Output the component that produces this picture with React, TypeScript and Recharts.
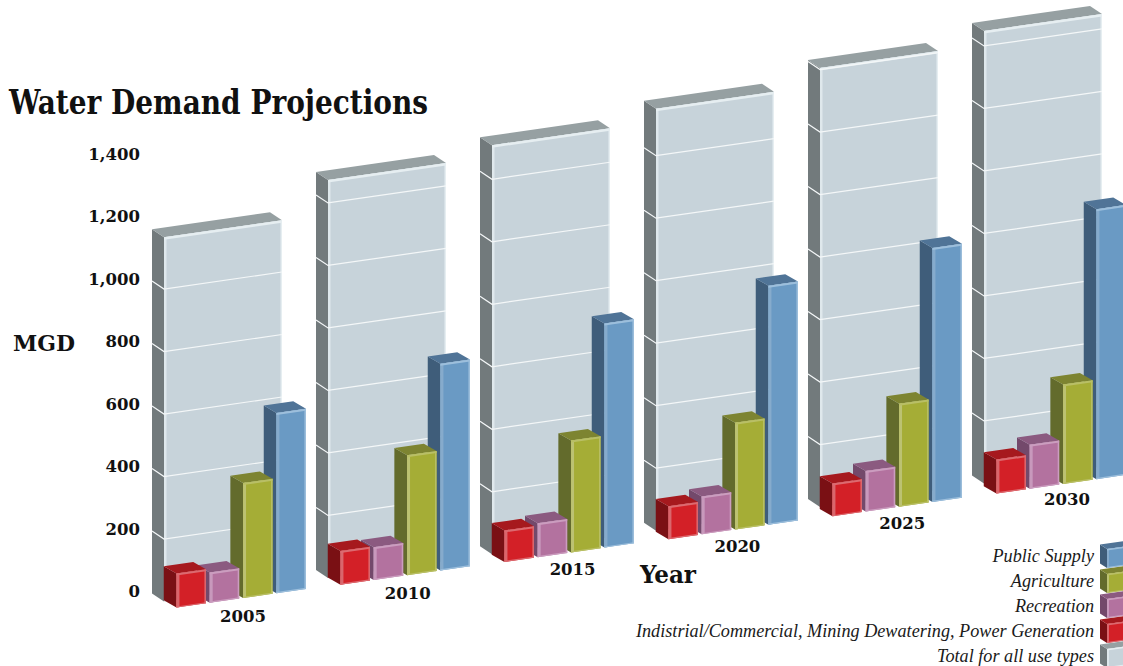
import { BarChart, Bar, XAxis, YAxis } from "recharts";

const years = ["2005", "2010", "2015", "2020", "2025", "2030"];
const totalDemand = [1166, 1273, 1309, 1350, 1405, 1448];
const publicSupply = [577, 661, 717, 765, 813, 864];
const agriculture = [368, 384, 358, 342, 330, 318];
const recreation = [97, 105, 109, 121, 130, 141];
const industrial = [109, 108, 101, 105, 105, 109];
const yTicks = [0, 200, 400, 600, 800, 1000, 1200, 1400];

const chartData = years.map((year, i) => ({
  year,
  total: totalDemand[i],
  publicSupply: publicSupply[i],
  agriculture: agriculture[i],
  recreation: recreation[i],
  industrial: industrial[i],
}));

interface Tone {
  front: string;
  side: string;
  top: string;
  bevel: string;
  edge: string;
}

const tones: Record<string, Tone> = {
  total: { front: "#c7d3da", side: "#727a7c", top: "#96a0a2", bevel: "#dfe8ec", edge: "#e6eef1" },
  publicSupply: { front: "#6a9ac4", side: "#3f5d7a", top: "#507497", bevel: "#86abcc", edge: "#9dbfdc" },
  agriculture: { front: "#a5ad36", side: "#636b2c", top: "#7d8431", bevel: "#bcc272", edge: "#b9bf66" },
  recreation: { front: "#b3729f", side: "#73496b", top: "#8b5a80", bevel: "#c899bc", edge: "#cb9dbf" },
  industrial: { front: "#d32027", side: "#7a1014", top: "#a6191e", bevel: "#d9666c", edge: "#dc6a70" },
};

const legendRows = [
  { label: "Public Supply", tone: tones.publicSupply },
  { label: "Agriculture", tone: tones.agriculture },
  { label: "Recreation", tone: tones.recreation },
  { label: "Indistrial/Commercial, Mining Dewatering, Power Generation", tone: tones.industrial },
  { label: "Total for all use types", tone: tones.total },
];

// The whole floor rises to the right; every box is sheared by this slope.
const SHEAR = 0.144;
const SHEAR_ORIGIN = 152;
const HEADING_FONT = "'DejaVu Serif Condensed', 'DejaVu Serif', serif";
const BODY_FONT = "'DejaVu Serif', serif";

type Pt = [number, number];

const poly = (pts: Pt[]) => pts.map((p) => `${p[0]},${p[1]}`).join(" ");

interface BoxProps {
  x: number;
  y: number;
  width: number;
  height: number;
  dx: number;
  dy: number;
  lift?: number;
  origin?: number;
  tone: Tone;
  strips?: [number, number, number, number];
  gridValues?: number[];
  pxPerUnit?: number;
}

function Box3D({
  x,
  y,
  width,
  height,
  dx,
  dy,
  lift = 0,
  origin = SHEAR_ORIGIN,
  tone,
  strips = [3, 2, 1.5, 1.2],
  gridValues = [],
  pxPerUnit = 0,
}: BoxProps) {
  const top = y + lift;
  const back = (u: number, v: number): Pt => [x + u, top + v - SHEAR * (x + u - origin)];
  const face = (u: number, v: number): Pt => {
    const p = back(u, v);
    return [p[0] + dx, p[1] + dy];
  };
  const rect = (u0: number, u1: number, v0: number, v1: number) =>
    poly([face(u0, v0), face(u1, v0), face(u1, v1), face(u0, v1)]);
  const [left, over, right, under] = strips;

  return (
    <g>
      <polygon points={poly([back(0, 0), face(0, 0), face(0, height), back(0, height)])} fill={tone.side} />
      <polygon points={poly([back(0, 0), back(width, 0), face(width, 0), face(0, 0)])} fill={tone.top} />
      <polygon points={rect(0, width, 0, height)} fill={tone.front} />
      <polygon points={rect(0, left, 0, height)} fill={tone.bevel} />
      <polygon points={rect(width - right, width, 0, height)} fill={tone.edge} />
      {under > 0 && <polygon points={rect(0, width, height - under, height)} fill={tone.edge} />}
      <polygon points={rect(0, width, 0, over)} fill={tone.edge} />
      {gridValues.map((v) => {
        const offset = height - v * pxPerUnit;
        return (
          <polyline
            key={v}
            points={poly([back(0, offset), face(0, offset), face(width, offset)])}
            fill="none"
            stroke="#f4f7f8"
            strokeWidth={1.2}
          />
        );
      })}
    </g>
  );
}

function TotalShape(props: any) {
  const { x, y, width, height, payload } = props;
  const grid = yTicks.filter((v) => v > 0 && v < payload.total);
  return (
    <Box3D
      x={x}
      y={y}
      width={width}
      height={height}
      dx={12}
      dy={8}
      tone={tones.total}
      strips={[2.5, 2.5, 1.5, 0]}
      gridValues={grid}
      pxPerUnit={height / payload.total}
    />
  );
}

// The small boxes stand just in front of the total block, slightly lower each year.
const smallShape = (key: string) => (props: any) => (
  <Box3D
    x={props.x}
    y={props.y}
    width={props.width}
    height={props.height}
    dx={12.7}
    dy={7.3}
    lift={8.5 + props.index * 0.8}
    tone={tones[key]}
  />
);

function YTick({ x, y, payload }: any) {
  return (
    <text
      x={x + 52}
      y={y - 2}
      textAnchor="end"
      dominantBaseline="central"
      fontFamily={BODY_FONT}
      fontWeight={700}
      fontSize={16.5}
      fill="#111"
    >
      {payload.value.toLocaleString("en-US")}
    </text>
  );
}

function YearTick({ x, index, payload }: any) {
  const labelX = x + 32 + index * 0.8;
  const labelY = 593.5 - SHEAR * (labelX - SHEAR_ORIGIN) + 36 + index * 0.4;
  return (
    <text
      x={labelX}
      y={labelY}
      textAnchor="middle"
      dominantBaseline="central"
      fontFamily={BODY_FONT}
      fontWeight={700}
      fontSize={16.5}
      fill="#111"
    >
      {payload.value}
    </text>
  );
}

function ChartKey() {
  return (
    <g>
      {legendRows.map((row, i) => (
        <g key={row.label}>
          <text
            x={1094}
            y={556 + i * 25}
            textAnchor="end"
            dominantBaseline="central"
            fontFamily="'Liberation Serif', serif"
            fontStyle="italic"
            fontSize={18.2}
            fill="#1a1a1a"
          >
            {row.label}
          </text>
          <Box3D
            x={1100}
            y={544.5 + i * 25}
            width={30}
            height={19}
            dx={7}
            dy={4.5}
            origin={1100}
            tone={row.tone}
            strips={[2, 1.5, 1, 1]}
          />
        </g>
      ))}
    </g>
  );
}

export default function App() {
  return (
    <div style={{ position: "absolute", left: 0, top: 0, width: 1123, height: 666, overflow: "hidden", background: "#fff" }}>
      <BarChart
        width={1200}
        height={666}
        data={chartData}
        margin={{ top: 124.75, right: 0, bottom: 42.5, left: 0 }}
      >
        <YAxis
          width={96}
          domain={[0, 1500]}
          ticks={yTicks}
          interval={0}
          axisLine={false}
          tickLine={false}
          tick={<YTick />}
        />
        <XAxis
          xAxisId="total"
          dataKey="year"
          height={30}
          padding={{ left: 33, right: 87 }}
          axisLine={false}
          tickLine={false}
          interval={0}
          tick={<YearTick />}
        />
        <XAxis xAxisId="publicSupply" dataKey="year" hide padding={{ left: 100.75, right: 19.25 }} />
        <XAxis xAxisId="agriculture" dataKey="year" hide padding={{ left: 67.35, right: 52.65 }} />
        <XAxis xAxisId="recreation" dataKey="year" hide padding={{ left: 34, right: 86 }} />
        <XAxis xAxisId="industrial" dataKey="year" hide padding={{ left: 0.75, right: 119.25 }} />

        <Bar xAxisId="total" dataKey="total" name="Total for all use types" barSize={118} shape={TotalShape} isAnimationActive={false} />
        {/* Drawn right to left so each box covers the side of its right-hand neighbour */}
        <Bar xAxisId="publicSupply" dataKey="publicSupply" name="Public Supply" barSize={29.5} shape={smallShape("publicSupply")} isAnimationActive={false} />
        <Bar xAxisId="agriculture" dataKey="agriculture" name="Agriculture" barSize={29.5} shape={smallShape("agriculture")} isAnimationActive={false} />
        <Bar xAxisId="recreation" dataKey="recreation" name="Recreation" barSize={29.5} shape={smallShape("recreation")} isAnimationActive={false} />
        <Bar xAxisId="industrial" dataKey="industrial" name="Industrial" barSize={29.5} shape={smallShape("industrial")} isAnimationActive={false} />

        <text x={9} y={114} fontFamily={HEADING_FONT} fontWeight={700} fontSize={33} textLength={419} lengthAdjust="spacingAndGlyphs" fill="#111">
          Water Demand Projections
        </text>
        <text x={13} y={351} fontFamily={HEADING_FONT} fontWeight={700} fontSize={22} textLength={62} lengthAdjust="spacingAndGlyphs" fill="#111">
          MGD
        </text>
        <text x={640} y={583} fontFamily={HEADING_FONT} fontWeight={700} fontSize={24} textLength={56} lengthAdjust="spacingAndGlyphs" fill="#111">
          Year
        </text>
        <ChartKey />
      </BarChart>
    </div>
  );
}
